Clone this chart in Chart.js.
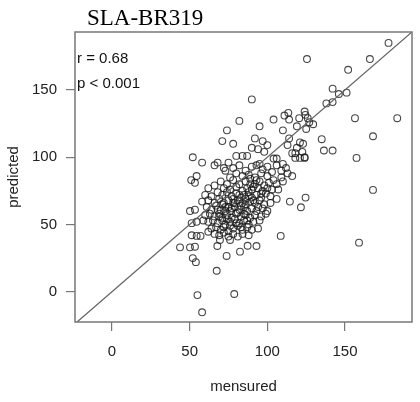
<!DOCTYPE html>
<html>
<head>
<meta charset="utf-8">
<script src="https://cdn.jsdelivr.net/npm/chart.js@4.4.1/dist/chart.umd.min.js"></script>
<style>
  html, body { margin: 0; padding: 0; background: #fff; }
  #wrap { width: 420px; height: 402px; }
</style>
</head>
<body>
<div id="wrap"><canvas id="scatter" width="420" height="402"></canvas></div>
<script>
const chartTitle = "SLA-BR319";
const statLines = ["r = 0.68", "p < 0.001"];
const xTitle = "mensured";
const yTitle = "predicted";
const tickValues = [0, 50, 100, 150];
const xRange = [-23.8, 193.1];
const yRange = [-22.5, 193.1];
const identityLine = [-23.8, 193.1];

// [mensured, predicted]
const highPoints = [
  [178,185],[125.5,173],[166,173],[152,165],[142,151],[146,147],[151,148],[138,140],
  [142,141],[90,143],[82,127],[104,128],[111,131],[113.5,133],[114,128],[124,134],
  [124.5,131.5],[126,129],[129.5,124.5],[120.5,129],[119,123],[125,121],[127,126],
  [156.4,129],[183.6,129],[168,115.6],[135,113.4],[136.4,105],[142,105],[157.4,99.5],
  [123,110],[122.5,104],[124,100]
];
const midPoints = [
  [74,120],[71,112],[78,110],[95,123],[92,114],[97,112],[100,109],[94,106],[90,107],
  [98,104],[110,120],[114,114],[113,109],[119,107],[116,103],[118,103],[121,111],
  [80,101],[84,101],[87,101],[95,95],[93,94],[104,99],[106,99],[110,95],[112,92],
  [109,90],[118,99.5],[121,99.5],[124,99.5],[52,100],[58,96],[66,94],[68,96],[72,92],
  [75,96],[73,90]
];
const clusterPoints = [
  [78,92],[82,94],[86,90],[90,93],[97,91],[100,93],[103,89],[106,94],[113,88],[116,86],
  [109,85],[104,83],[100,86],[96,88],[92,85],[88,87],[84,86],[80,88],[76,85],
  [70,82],[74,80],[78,83],[82,80],[86,82],[89,84],[92,80],[95,82],[98,79],[101,81],
  [106,80],[110,82],[66,79],[72,77],[76,76],[80,78],[84,75],[87,77],[90,76],[94,77],
  [97,75],[100,77],[103,76],[107,76],[62,77],
  [60,72],[64,71],[68,74],[71,72],[74,74],[77,71],[80,73],[83,70],[85,72],[88,74],
  [90,70],[93,72],[96,70],[99,73],[102,71],[106,69],[58,67],[62,68],[66,66],[69,69],
  [72,66],[75,68],[78,66],[81,68],[84,66],[86,69],[89,67],[92,66],[95,68],[98,65],[102,66],
  [61,63],[64,61],[67,64],[70,61],[73,63],[76,60],[79,63],[82,61],[85,63],[87,60],
  [90,62],[93,60],[97,62],[100,60],[60,57],[63,58],[66,56],[69,58],[71,55],[74,57],
  [77,55],[80,58],[83,56],[86,57],[89,55],[92,57],[96,56],[99,58],
  [62,52],[65,53],[68,51],[71,53],[73,50],[76,52],[79,54],[82,51],[85,53],[88,50],
  [91,52],[95,53],[64,47],[67,48],[70,46],[72,48],[75,45],[78,47],[81,49],[84,46],
  [87,48],[90,46],[94,47],
  [66,43],[69,42],[72,44],[75,41],[78,43],[81,41],[84,43],[88,42],
  [77,62],[79,66],[81,59],[83,64],[85,58],[78,69],[82,72],[86,65],[88,71],[80,51],
  [83,48],[76,49],[74,54],[87,53],[91,68],[94,63],[96,73],[91,78],[93,83],[89,80],
  [71,65],[73,60],[75,63],[69,56],[68,61]
];
const lowPoints = [
  [51,83],[54.5,86],[53.4,81],[50.2,60],[53.4,61],[51.3,51],[54.5,52],[58.8,53],
  [51.3,42],[54.5,41.5],[57,41.5],[62,44.6],[43.8,33],[50.2,33],[53.4,33.5],[52,25],
  [54,22],[67.4,15.6],[73.8,26.6],[82.4,29.8],[87.3,34.2],[93,34],[67.8,34],[69.5,38.5],
  [76,38.5],[108.6,41.5],[55,-2.5],[78.7,-1.7],[58,-15.3]
];
const rightPoints = [
  [168,75.7],[114.5,67],[124.6,70],[121.6,62.8],[159,36.5]
];

const allPoints = highPoints.concat(midPoints, clusterPoints, lowPoints, rightPoints)
  .map(p => ({ x: p[0], y: p[1] }));

const labelFont = { family: "'Liberation Sans', Arial, sans-serif", size: 15 };

// box round the plot, title and the r / p text
const frame = {
  id: "frame",
  afterDraw(chart) {
    const ctx = chart.ctx;
    const a = chart.chartArea;
    ctx.save();
    ctx.strokeStyle = "#777";
    ctx.lineWidth = 1.5;
    ctx.strokeRect(a.left, a.top, a.right - a.left, a.bottom - a.top);
    ctx.fillStyle = "#000";
    ctx.font = "23px 'Liberation Serif', 'Times New Roman', serif";
    ctx.textBaseline = "alphabetic";
    ctx.fillText(chartTitle, 87, 25);
    ctx.fillStyle = "#111";
    ctx.font = "15px 'Liberation Sans', Arial, sans-serif";
    ctx.fillText(statLines[0], 77, 63);
    ctx.fillText(statLines[1], 77, 88);
    ctx.restore();
  }
};

const axisGrid = { drawOnChartArea: false, drawTicks: true, tickLength: 9, color: "#777", lineWidth: 1.2 };

new Chart(document.getElementById("scatter"), {
  type: "scatter",
  data: {
    datasets: [
      {
        type: "line",
        data: identityLine.map(v => ({ x: v, y: v })),
        borderColor: "#666",
        borderWidth: 1.3,
        pointRadius: 0
      },
      {
        data: allPoints,
        pointStyle: "circle",
        pointRadius: 3.4,
        borderWidth: 1.1,
        borderColor: "rgba(25,25,25,0.8)",
        backgroundColor: "rgba(0,0,0,0)"
      }
    ]
  },
  options: {
    responsive: false,
    animation: false,
    layout: { padding: { top: 32, right: 8, left: 0, bottom: 0 } },
    plugins: { legend: { display: false }, tooltip: { enabled: false } },
    scales: {
      x: {
        type: "linear",
        min: xRange[0],
        max: xRange[1],
        afterBuildTicks: s => { s.ticks = tickValues.map(v => ({ value: v })); },
        afterFit: s => { s.height = 80; },
        grid: axisGrid,
        border: { display: false },
        ticks: { padding: 12, color: "#222", font: labelFont },
        title: { display: true, text: xTitle, color: "#222", font: labelFont, padding: { top: 0, bottom: 6 } }
      },
      y: {
        type: "linear",
        min: yRange[0],
        max: yRange[1],
        afterBuildTicks: s => { s.ticks = tickValues.map(v => ({ value: v })); },
        afterFit: s => { s.width = 75; },
        grid: axisGrid,
        border: { display: false },
        ticks: { padding: 9, color: "#222", font: labelFont },
        title: { display: true, text: yTitle, color: "#222", font: labelFont, padding: { top: 5, bottom: 0 } }
      }
    }
  },
  plugins: [frame]
});
</script>
</body>
</html>
